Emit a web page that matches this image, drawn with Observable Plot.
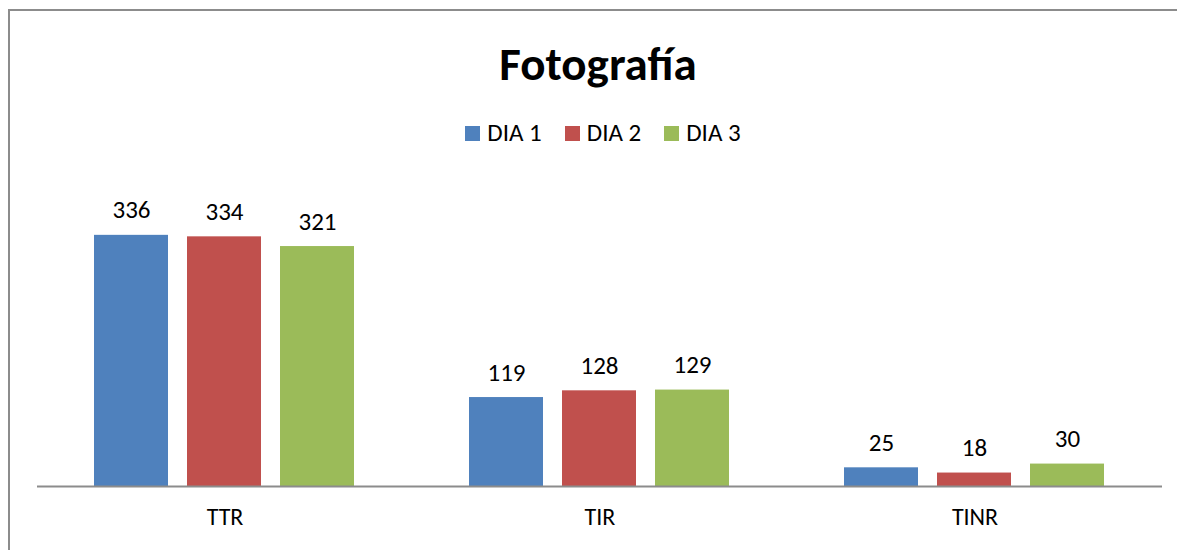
<!DOCTYPE html>
<html>
<head>
<meta charset="utf-8">
<script src="https://cdn.jsdelivr.net/npm/d3@7"></script>
<script src="https://cdn.jsdelivr.net/npm/@observablehq/plot@0.6"></script>
<style>
  html, body { margin: 0; padding: 0; background: #fff; width: 1177px; height: 550px; overflow: hidden; }
  body { font-family: Carlito, Calibri, Lato, "Open Sans", sans-serif; position: relative; }
  #frame { position: absolute; left: 8px; top: 9px; width: 1300px; height: 700px; border: 2px solid #8c8c8c; box-sizing: border-box; }
  #title { position: absolute; left: 0; width: 1196px; top: 36px; text-align: center; font-size: 47px; font-weight: bold; line-height: 56px; color: #000; }
  #legend { position: absolute; left: 0; width: 1206px; top: 118px; display: flex; justify-content: center; gap: 23px; font-size: 25px; line-height: 30px; color: #000; }
  .item { display: flex; align-items: center; gap: 7px; }
  .sw { width: 15px; height: 15px; display: inline-block; }
  #chart { position: absolute; left: 0; top: 160px; }
</style>
</head>
<body>
<div id="frame"></div>
<div id="title">Fotografía</div>
<div id="legend"></div>
<div id="chart"></div>
<script>
const categories = ["TTR", "TIR", "TINR"];
const seriesNames = ["DIA 1", "DIA 2", "DIA 3"];
const dia1 = [336, 119, 25];
const dia2 = [334, 128, 18];
const dia3 = [321, 129, 30];
const colors = ["#4f81bd", "#c0504d", "#9bbb59"];

const seriesValues = [dia1, dia2, dia3];
const data = [];
categories.forEach((c, i) => {
  seriesNames.forEach((s, j) => data.push({cat: c, series: s, value: seriesValues[j][i]}));
});

const legend = document.getElementById("legend");
seriesNames.forEach((s, j) => {
  const it = document.createElement("div");
  it.className = "item";
  it.innerHTML = `<span class="sw" style="background:${colors[j]}"></span><span>${s}</span>`;
  legend.appendChild(it);
});

const chart = Plot.plot({
  width: 1177,
  height: 390,
  marginLeft: 37,
  marginRight: 15,
  marginTop: 27,
  marginBottom: 64,
  style: { fontFamily: "Carlito, Calibri, Lato, 'Open Sans', sans-serif", fontSize: "24px", background: "transparent" },
  fx: { domain: categories, paddingInner: 0.304, paddingOuter: 0.152, label: null },
  x: { domain: seriesNames, axis: null, paddingInner: 0.2, paddingOuter: 0 },
  y: { domain: [0, 400], axis: null },
  color: { domain: seriesNames, range: colors },
  marks: [
    Plot.barY(data, { fx: "cat", x: "series", y: "value", fill: "series" }),
    Plot.text(data, { fx: "cat", x: "series", y: "value", text: d => String(d.value), dy: -25, fill: "#000", fontSize: 25 }),
    Plot.axisFx({ anchor: "bottom", tickSize: 0, tickPadding: 21, fontSize: 24, label: null, fill: "#000" })
  ]
});
document.getElementById("chart").appendChild(chart);

// baseline across whole plot width
const svg = d3.select(chart);
svg.append("line")
  .attr("x1", 37).attr("x2", 1162)
  .attr("y1", 390 - 64 + 0.5).attr("y2", 390 - 64 + 0.5)
  .attr("stroke", "#8c8c8c").attr("stroke-width", 2);
</script>
</body>
</html>
